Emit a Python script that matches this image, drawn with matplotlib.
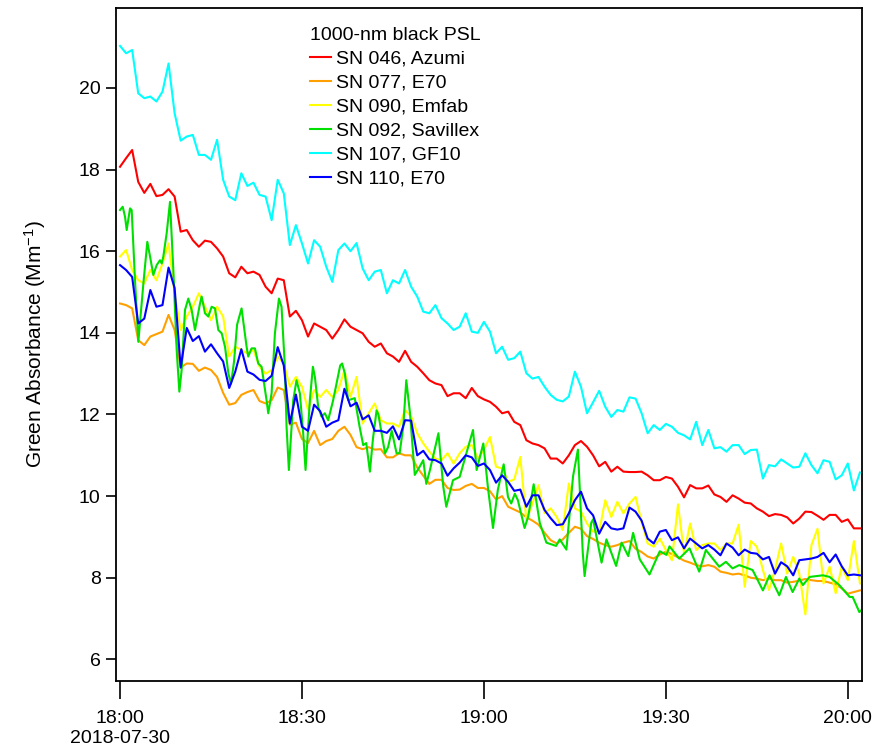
"""
Green absorbance of 1000-nm black PSL, six instruments, 2018-07-30 18:00-20:00
"""
import numpy as np
import matplotlib
matplotlib.use('Agg')
import matplotlib.pyplot as plt
from matplotlib.ticker import FixedLocator

plt.rcParams['font.family'] = ['Liberation Sans', 'DejaVu Sans']
plt.rcParams['mathtext.default'] = 'regular'

# minutes after 18:00, one reading per minute
minutes = np.arange(123)

sn046 = [18.07, 18.28, 18.48, 17.7, 17.43, 17.65, 17.35, 17.38, 17.52, 17.34,
         16.48, 16.52, 16.27, 16.11, 16.26, 16.23, 16.07, 15.87, 15.46, 15.36,
         15.62, 15.46, 15.5, 15.42, 15.13, 14.97, 15.33, 15.29, 14.4, 14.54,
         14.31, 13.91, 14.23, 14.15, 14.07, 13.86, 14.07, 14.33, 14.15, 14.07,
         13.99, 13.78, 13.66, 13.74, 13.5, 13.42, 13.29, 13.56, 13.29, 13.17,
         13.01, 12.84, 12.76, 12.72, 12.45, 12.52, 12.52, 12.4, 12.65, 12.45,
         12.37, 12.31, 12.19, 12.03, 12.07, 11.82, 11.74, 11.37, 11.29, 11.25,
         11.17, 10.92, 10.92, 10.8, 11.0, 11.25, 11.35, 11.21, 11.0, 10.73,
         10.84, 10.6, 10.72, 10.6, 10.59, 10.59, 10.6, 10.51, 10.39, 10.39,
         10.47, 10.43, 10.23, 9.97, 10.27, 10.19, 10.19, 10.26, 10.04, 9.98,
         9.86, 10.02, 9.94, 9.84, 9.82, 9.7, 9.62, 9.51, 9.56, 9.54,
         9.48, 9.33, 9.45, 9.62, 9.61, 9.52, 9.42, 9.54, 9.54, 9.37,
         9.43, 9.21, 9.21]

sn077 = [14.72, 14.68, 14.6, 13.82, 13.7, 13.91, 13.97, 14.03, 14.44, 14.07,
         13.15, 13.25, 13.24, 13.07, 13.15, 13.09, 12.92, 12.53, 12.24, 12.28,
         12.48, 12.55, 12.6, 12.33, 12.27, 12.35, 12.66, 12.6, 11.75, 11.8,
         11.4, 11.3, 11.6, 11.25, 11.35, 11.4, 11.6, 11.7, 11.5, 11.2,
         11.15, 11.2, 11.14, 11.15, 10.95, 10.95, 11.05, 11.0, 11.0, 10.7,
         10.5, 10.3, 10.4, 10.4, 10.2, 10.15, 10.16, 10.25, 10.3, 10.2,
         10.2, 10.12, 9.92, 10.0, 9.74, 9.67, 9.6, 9.48, 9.4, 9.3,
         9.1, 8.92, 8.84, 8.94, 9.1, 9.25, 9.2, 9.02, 8.95, 8.86,
         8.8, 8.76, 8.8, 8.86, 8.9, 8.71, 8.63, 8.52, 8.47, 8.57,
         8.64, 8.58, 8.5, 8.42, 8.37, 8.31, 8.28, 8.31, 8.27, 8.15,
         8.12, 8.08, 8.1, 8.06, 8.0, 7.98, 7.94, 7.98, 7.94, 7.94,
         7.88, 7.9, 7.93, 7.97, 7.94, 7.92, 7.92, 7.88, 7.84, 7.74,
         7.61, 7.65, 7.69]

sn090 = [15.87, 16.03, 15.54, 15.29, 15.21, 15.54, 15.29, 15.7, 16.19, 14.97,
         14.07, 14.4, 14.64, 14.97, 14.64, 14.31, 14.64, 14.4, 13.42, 13.66,
         13.58, 13.5, 13.58, 13.17, 13.0, 13.09, 13.42, 13.25, 12.68, 12.92,
         12.68, 12.11, 12.6, 12.43, 12.6, 12.43, 12.6, 13.09, 12.43, 12.92,
         11.78, 12.03, 12.27, 11.86, 11.78, 11.78, 11.7, 12.11, 11.95, 11.54,
         11.29, 11.09, 10.92, 10.88, 11.05, 10.8, 11.05, 11.21, 11.25, 10.92,
         11.13, 11.45, 10.72, 10.68, 10.35, 10.41, 10.96, 9.41, 9.82, 10.27,
         9.58, 9.7, 9.49, 9.17, 10.31, 9.7, 9.62, 9.33, 9.13, 9.13,
         9.9, 9.49, 9.86, 9.58, 9.82, 9.98, 9.37, 8.84, 8.76, 8.96,
         8.68, 8.43, 9.8, 8.59, 9.33, 8.68, 8.8, 8.84, 8.84, 8.68,
         8.84, 8.84, 9.3, 7.78, 8.9, 8.76, 8.19, 7.7, 8.19, 8.84,
         8.1, 8.51, 8.1, 7.1, 8.8, 9.2, 7.86, 8.27, 7.62, 8.27,
         7.94, 8.9, 7.86]

# SN 092 swings fast, so it is read at its turning points
sn092_minutes = [0, 0.44, 0.82, 1.1, 1.65, 1.92, 2.47, 3.02, 3.85, 4.5,
                 4.95, 5.49, 6.04, 6.59, 6.87, 7.14, 7.69, 8.24, 8.79, 9.34,
                 9.78, 10.16, 10.71, 11.26, 11.81, 12.36, 13.19, 13.46, 14.01, 14.56,
                 15.11, 15.66, 16.21, 16.76, 17.31, 17.86, 18.3, 18.8, 19.3, 20.04,
                 20.87, 21.14, 21.69, 22.24, 22.79, 23.34, 24.16, 24.44, 24.99, 25.54,
                 26.2, 26.63, 27.18, 27.46, 27.84, 28.56, 29.1, 29.65, 30.2, 30.59,
                 31.3, 31.8, 32.13, 32.67, 33.22, 33.77, 34.32, 35.14, 36.3, 36.62,
                 37.06, 37.61, 38.7, 39.5, 40.1, 40.6, 41.2, 41.7, 42.3, 42.6,
                 43.7, 44.2, 44.8, 45.6, 46.1, 46.7, 47.2, 47.8, 48.6, 49.4,
                 50.0, 50.5, 51.1, 52.5, 53.3, 53.8, 54.9, 56.0, 57.1, 58.2,
                 58.8, 59.9, 60.7, 61.5, 62.3, 63.26, 63.97, 64.5, 65.1, 65.6,
                 66.7, 67.3, 68.2, 69.2, 70.3, 71.9, 72.5, 73.6, 74.7, 75.5,
                 76.3, 76.6, 77.7, 78.0, 79.4, 80.2, 81.8, 82.7, 83.8, 84.6,
                 85.7, 87.3, 89.0, 90.1, 90.6, 92.2, 93.9, 95.5, 96.6, 98.8,
                 99.9, 101.0, 102.1, 104.3, 106.0, 107.1, 108.7, 109.8, 110.9, 112.0,
                 112.6, 113.7, 115.9, 117.0, 118.6, 120.3, 120.8, 121.9, 122.2]
sn092 = [17.01, 17.09, 16.85, 16.52, 17.05, 17.01, 15.29, 13.78, 15.21, 16.23,
         15.87, 15.42, 15.66, 15.78, 15.7, 15.87, 16.44, 17.21, 15.54, 13.58,
         12.56, 13.09, 14.56, 14.84, 14.56, 14.07, 14.72, 14.89, 14.48, 14.4,
         14.64, 14.6, 14.07, 13.99, 13.66, 13.01, 12.75, 13.3, 14.2, 14.6,
         13.66, 13.42, 13.62, 13.62, 13.25, 13.17, 12.35, 12.03, 12.52, 13.99,
         14.84, 14.64, 13.17, 11.7, 10.64, 12.35, 12.84, 12.52, 11.54, 10.64,
         12.35, 13.17, 12.92, 12.19, 11.95, 12.03, 11.86, 12.35, 13.2, 13.25,
         13.01, 12.35, 12.4, 11.7, 11.25, 11.3, 10.6, 11.4, 12.1, 12.0,
         11.05, 11.2, 11.6, 11.05, 11.05, 11.7, 12.84, 12.05, 10.52, 10.72,
         10.88, 10.3, 10.64, 11.54, 10.23, 9.74, 10.39, 10.47, 11.05, 11.62,
         10.64, 11.29, 10.16, 9.22, 10.16, 10.78, 9.98, 9.82, 10.06, 9.9,
         9.22, 9.5, 10.29, 9.35, 8.86, 8.78, 8.94, 8.69, 10.49, 11.14,
         8.61, 8.04, 9.35, 9.43, 8.37, 8.94, 8.29, 8.86, 8.53, 9.1,
         8.45, 8.08, 8.65, 8.56, 8.77, 8.47, 8.72, 8.15, 8.68, 8.27,
         8.39, 8.23, 8.31, 8.19, 7.69, 8.06, 7.57, 8.02, 7.65, 7.98,
         7.82, 8.02, 8.06, 8.02, 7.82, 7.53, 7.53, 7.16, 7.2]

sn107 = [21.03, 20.85, 20.93, 19.87, 19.75, 19.79, 19.67, 19.91, 20.6, 19.38,
         18.71, 18.81, 18.85, 18.36, 18.36, 18.24, 18.73, 17.75, 17.34, 17.25,
         17.91, 17.6, 17.68, 17.38, 17.34, 16.76, 17.75, 17.42, 16.15, 16.64,
         16.19, 15.7, 16.27, 16.11, 15.62, 15.25, 16.03, 16.19, 16.0, 16.2,
         15.58, 15.29, 15.5, 15.54, 14.97, 15.29, 15.21, 15.54, 15.13, 14.89,
         14.52, 14.48, 14.68, 14.36, 14.23, 14.07, 14.15, 14.48, 14.03, 14.0,
         14.27, 14.03, 13.5, 13.66, 13.34, 13.38, 13.54, 13.01, 12.88, 12.92,
         12.68, 12.48, 12.36, 12.32, 12.44, 13.05, 12.68, 12.03, 12.3, 12.58,
         12.19, 11.94, 12.11, 12.07, 12.42, 12.39, 12.03, 11.54, 11.74, 11.62,
         11.77, 11.7, 11.55, 11.49, 11.39, 11.82, 11.25, 11.62, 11.17, 11.2,
         11.09, 11.25, 11.25, 11.03, 11.13, 11.14, 10.43, 10.76, 10.73, 10.9,
         10.8, 10.7, 10.72, 11.05, 10.76, 10.56, 10.88, 10.84, 10.41, 10.51,
         10.8, 10.14, 10.58]

sn110 = [15.66, 15.54, 15.37, 14.23, 14.35, 15.05, 14.64, 14.68, 15.6, 15.1,
         13.15, 14.12, 13.8, 13.92, 13.54, 13.72, 13.5, 13.3, 12.65, 13.05,
         13.6, 13.05, 12.98, 12.85, 12.82, 12.95, 13.65, 13.2, 11.78, 12.49,
         11.7, 11.6, 12.24, 12.08, 11.7, 11.8, 11.86, 12.63, 12.2, 12.29,
         11.88, 11.98, 11.6, 11.6, 11.55, 11.71, 11.39, 11.86, 11.85, 11.0,
         11.11, 10.9, 10.88, 10.8, 10.5, 10.68, 10.82, 11.0, 10.95, 10.74,
         10.8, 10.64, 10.33, 10.51, 10.35, 10.13, 10.16, 9.74, 10.02, 10.02,
         9.66, 9.46, 9.29, 9.31, 9.58, 9.9, 10.11, 9.7, 9.53, 9.08,
         9.37, 9.21, 9.18, 9.21, 9.72, 9.62, 9.4, 8.96, 8.84, 9.13,
         9.17, 8.92, 8.99, 8.72, 8.96, 8.84, 8.72, 8.8, 8.69, 8.55,
         8.84, 8.74, 8.55, 8.69, 8.61, 8.59, 8.45, 8.51, 8.1, 8.38,
         8.28, 8.06, 8.43, 8.45, 8.47, 8.51, 8.61, 8.38, 8.57, 8.28,
         8.06, 8.08, 8.06]

series_labels = ['SN 046, Azumi', 'SN 077, E70', 'SN 090, Emfab',
                 'SN 092, Savillex', 'SN 107, GF10', 'SN 110, E70']
series_colors = ['#ff0000', '#ffa000', '#ffff00', '#00e000', '#00ffff', '#0000ff']

tick_minutes = [0, 30, 60, 90, 120]
tick_labels = ['18:00\n2018-07-30', '18:30', '19:00', '19:30', '20:00']
y_ticks = [6, 8, 10, 12, 14, 16, 18, 20]

fig = plt.figure(figsize=(8.81, 7.53), dpi=100)
ax = fig.add_axes([0.1317, 0.0956, 0.8468, 0.8938])

xs = [minutes, minutes, minutes, sn092_minutes, minutes, minutes]
ys = [sn046, sn077, sn090, sn092, sn107, sn110]
for x, y, lab, col in zip(xs, ys, series_labels, series_colors):
    ax.plot(x, y, color=col, lw=1.5, label=lab)

ax.set_xlim(-0.66, 122.35)
ax.set_ylim(5.47, 21.96)

ax.xaxis.set_major_locator(FixedLocator(tick_minutes))
ax.set_xticklabels(tick_labels, fontsize=14, linespacing=1.2)
ax.set_yticks(y_ticks)
ax.tick_params(axis='y', labelsize=14, direction='out', length=7, width=1.2, pad=4)
ax.tick_params(axis='x', direction='out', length=13, width=1.2, pad=8)
for s in ax.spines.values():
    s.set_linewidth(1.3)

ax.set_ylabel('Green Absorbance (Mm$^{-1}$)', fontsize=15, labelpad=22)

leg = ax.legend(loc='upper left', bbox_to_anchor=(0.255, 0.978), frameon=False,
                title='1000-nm black PSL', title_fontsize=14, fontsize=14,
                handlelength=1.05, handletextpad=0.3, labelspacing=0.33,
                borderaxespad=0, borderpad=0.2, alignment='left')

fig.savefig('out.png', dpi=100)
